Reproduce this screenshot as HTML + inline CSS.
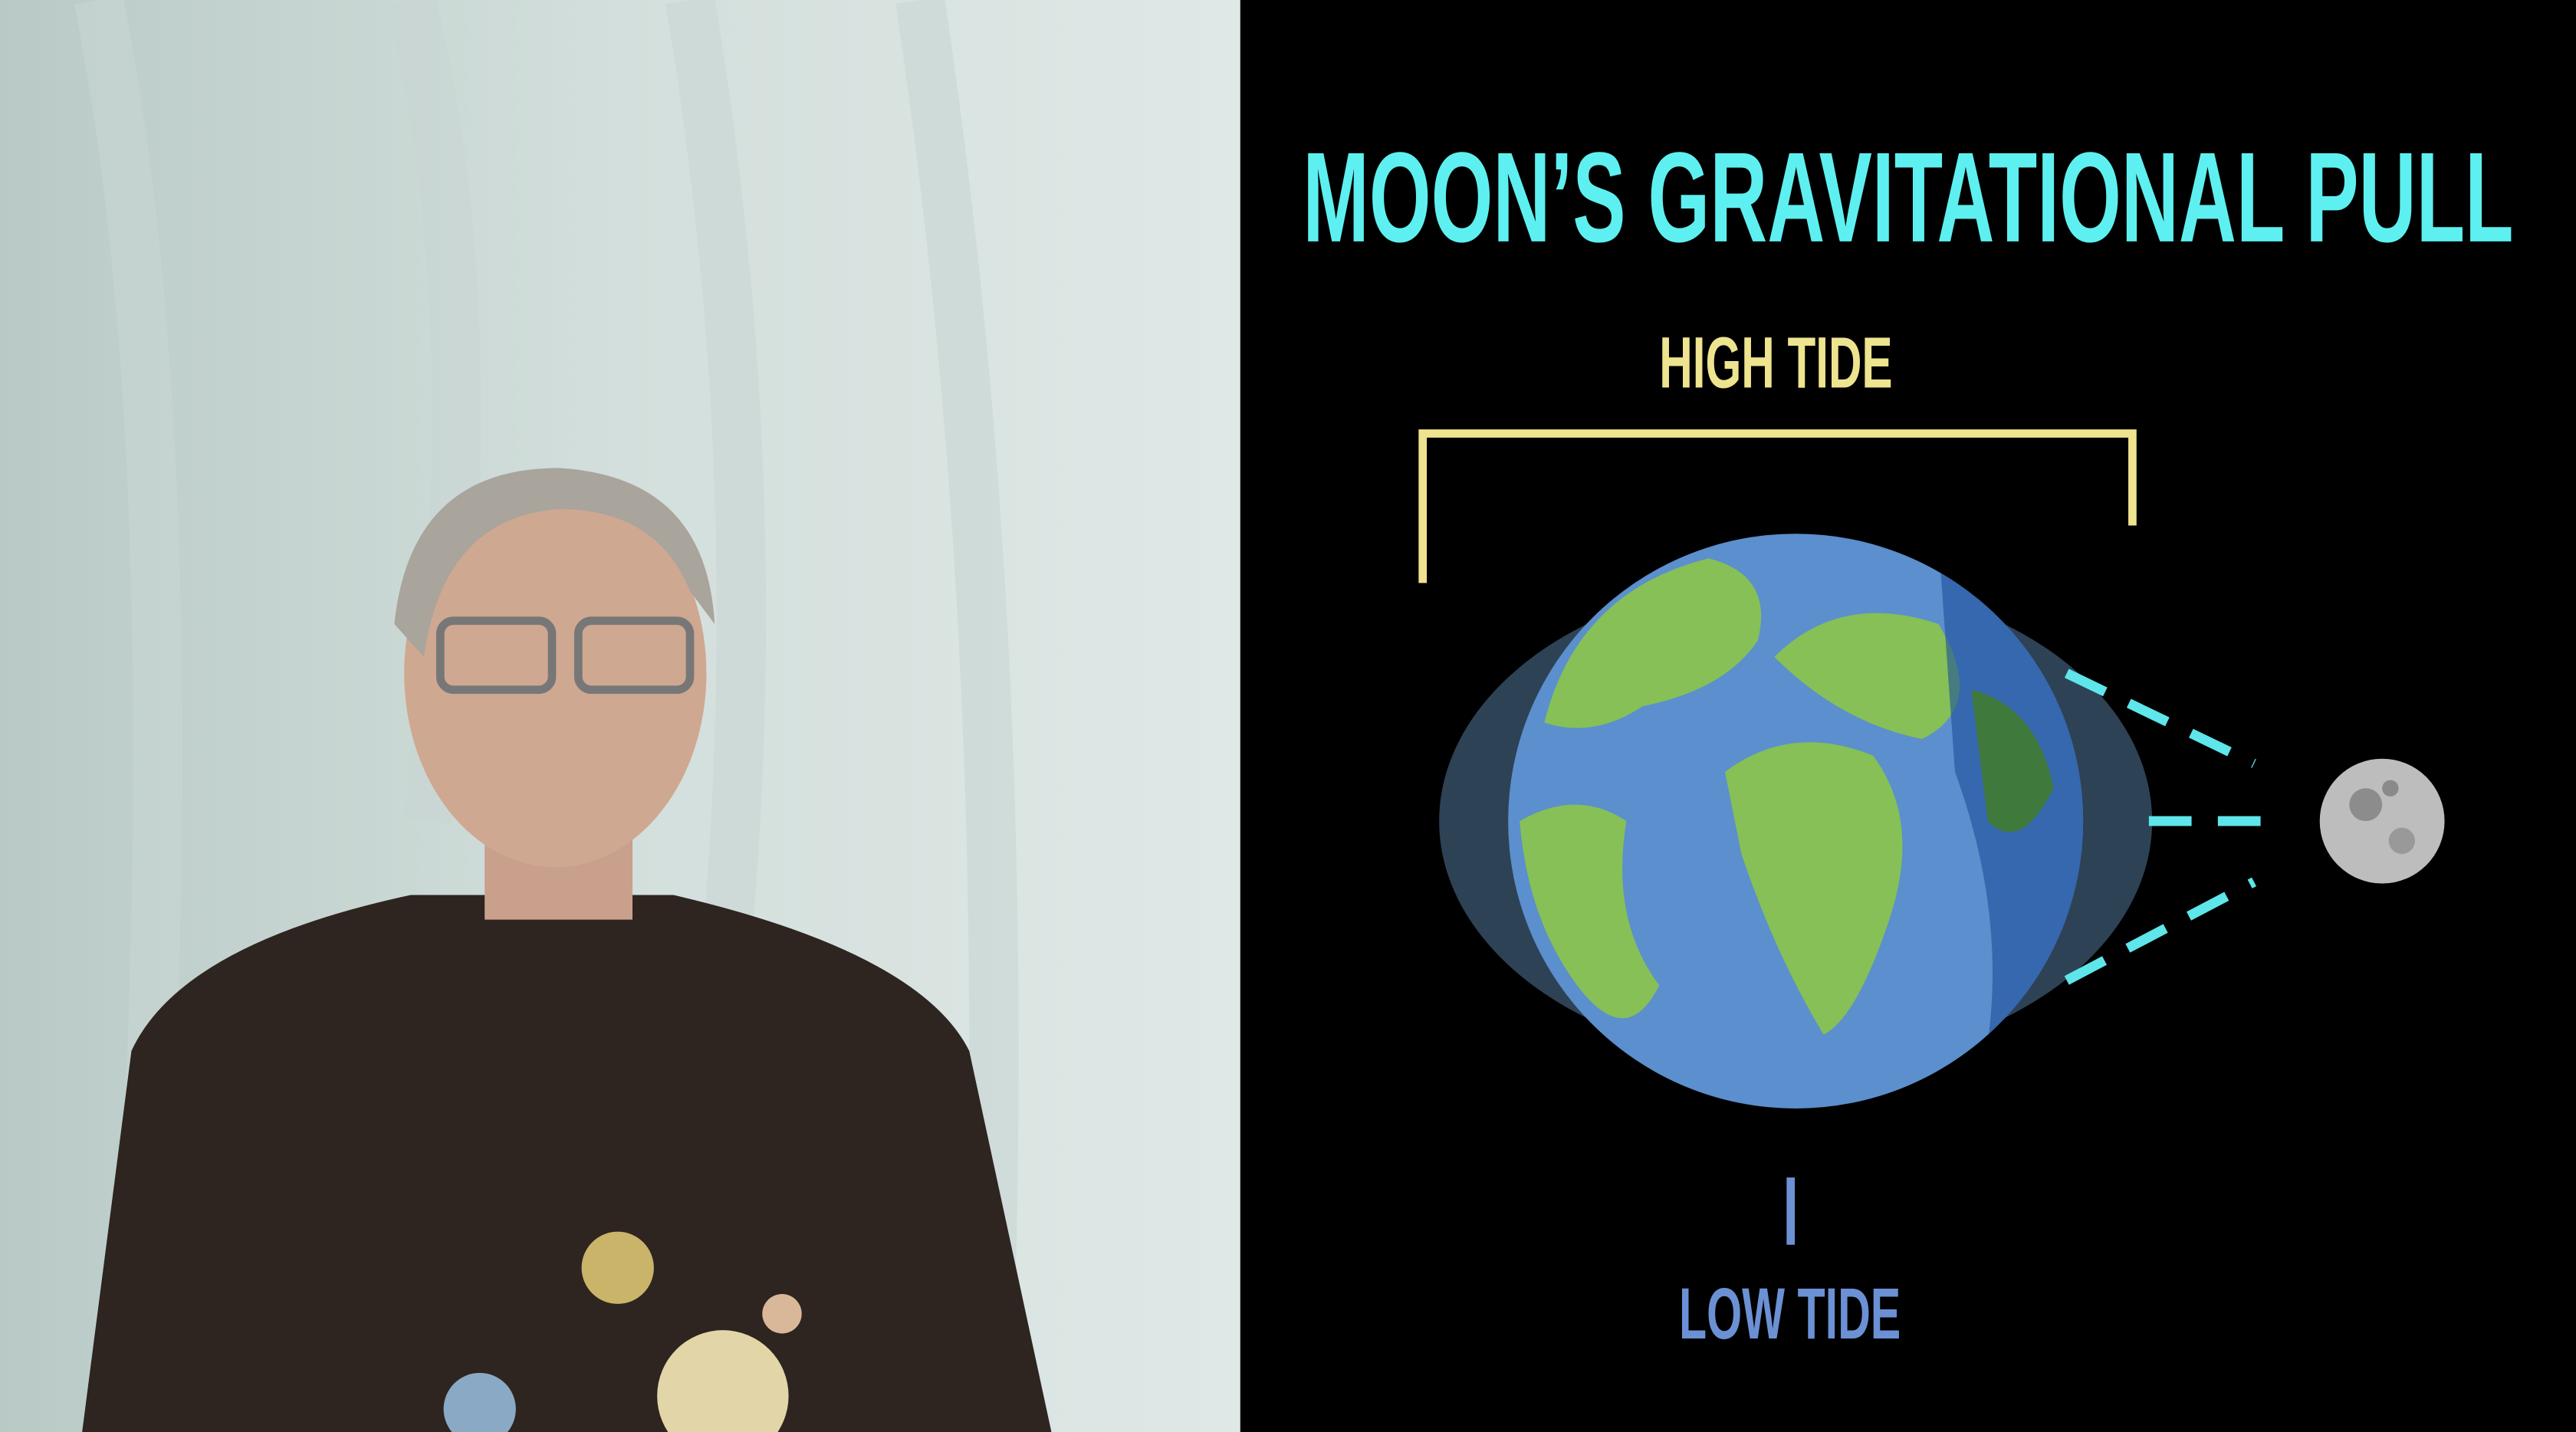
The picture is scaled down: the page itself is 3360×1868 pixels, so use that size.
<!DOCTYPE html>
<html><head><meta charset="utf-8"><style>
html,body{margin:0;padding:0;background:#000;}
svg{display:block;}
</style></head><body>
<svg width="3360" height="1868" viewBox="0 0 1568 872" preserveAspectRatio="none" xmlns="http://www.w3.org/2000/svg">
<defs>
<linearGradient id="bg" x1="0" y1="0" x2="1" y2="0">
<stop offset="0" stop-color="#b9cac6"/><stop offset="0.5" stop-color="#d3dfdc"/><stop offset="1" stop-color="#dfe8e6"/>
</linearGradient>
<clipPath id="earthclip"><circle cx="1093" cy="500" r="175"/></clipPath>
</defs>
<g>
<rect x="0" y="0" width="755" height="872" fill="url(#bg)"/>
<path d="M60 0 Q120 300 80 872 M250 0 Q300 200 260 500 M420 0 Q470 300 440 600 M560 0 Q620 400 600 872" stroke="#c8d6d3" stroke-width="30" fill="none" opacity="0.6"/>
<path d="M50 872 L80 640 Q110 575 250 545 L410 545 Q560 580 590 640 L640 872 Z" fill="#2e2420"/>
<rect x="295" y="470" width="90" height="90" fill="#c9a08c"/>
<ellipse cx="338" cy="410" rx="92" ry="118" fill="#cfa892"/>
<path d="M240 380 Q250 285 340 285 Q430 290 435 380 L420 360 Q400 310 340 310 Q270 315 258 400 Z" fill="#a9a49c"/>
<rect x="268" y="378" width="68" height="42" rx="8" fill="none" stroke="#777" stroke-width="5"/>
<rect x="352" y="378" width="68" height="42" rx="8" fill="none" stroke="#777" stroke-width="5"/>
<circle cx="376" cy="772" r="22" fill="#c9b46a"/>
<circle cx="440" cy="850" r="40" fill="#e2d6a8"/>
<circle cx="292" cy="858" r="22" fill="#8aa9c4"/>
<circle cx="476" cy="800" r="12" fill="#d9b89a"/>
</g>
<rect x="755" y="0" width="813" height="872" fill="#000"/>
<text x="793" y="147" textLength="737" lengthAdjust="spacingAndGlyphs" font-family="Liberation Sans Narrow, Liberation Sans, sans-serif" font-weight="bold" font-size="78" fill="#5ef0f0">MOON’S GRAVITATIONAL PULL</text>
<text x="1010" y="236" textLength="142" lengthAdjust="spacingAndGlyphs" font-family="Liberation Sans Narrow, Liberation Sans, sans-serif" font-weight="bold" font-size="44" fill="#eee38f">HIGH TIDE</text>
<path d="M866 355 V264 H1298 V320" stroke="#eee38f" stroke-width="5" fill="none"/>
<ellipse cx="1093" cy="500" rx="217" ry="148" fill="#2e4256"/>
<g>
<circle cx="1093" cy="500" r="175" fill="#5b8fcd"/>
<g clip-path="url(#earthclip)">
<path d="M940 440 Q960 360 1040 340 Q1080 350 1070 390 Q1050 420 1000 430 Q970 450 940 440Z" fill="#86c057"/>
<path d="M925 500 Q960 480 990 500 Q980 560 1010 600 Q990 640 960 600 Q930 560 925 500Z" fill="#86c057"/>
<path d="M1050 470 Q1090 440 1140 460 Q1170 500 1150 560 Q1130 620 1110 630 Q1080 580 1060 520 Z" fill="#86c057"/>
<path d="M1080 400 Q1120 360 1180 380 Q1210 430 1170 450 Q1120 440 1080 400Z" fill="#86c057"/>
<path d="M1180 330 L1280 330 L1280 680 L1200 680 Q1230 580 1190 470 Z" fill="#1d4f9a" opacity="0.6"/>
<path d="M1200 420 Q1240 430 1250 480 Q1230 520 1210 500 Z" fill="#3f7a3c"/>
</g>
</g>
<g stroke="#5ee6ea" stroke-width="6" stroke-dasharray="26 16" fill="none">
<line x1="1258" y1="410" x2="1372" y2="465"/>
<line x1="1308" y1="500" x2="1388" y2="500"/>
<line x1="1258" y1="597" x2="1372" y2="537"/>
</g>
<g>
<circle cx="1450" cy="500" r="38" fill="#bdbdbd"/>
<circle cx="1440" cy="490" r="10" fill="#8c8c8c"/>
<circle cx="1462" cy="512" r="8" fill="#999"/>
<circle cx="1455" cy="480" r="5" fill="#8a8a8a"/>
</g>
<line x1="1090" y1="717" x2="1090" y2="758" stroke="#6b91d4" stroke-width="5"/>
<text x="1022" y="815" textLength="135" lengthAdjust="spacingAndGlyphs" font-family="Liberation Sans Narrow, Liberation Sans, sans-serif" font-weight="bold" font-size="44" fill="#6b91d4">LOW TIDE</text>
</svg>
</body></html>
